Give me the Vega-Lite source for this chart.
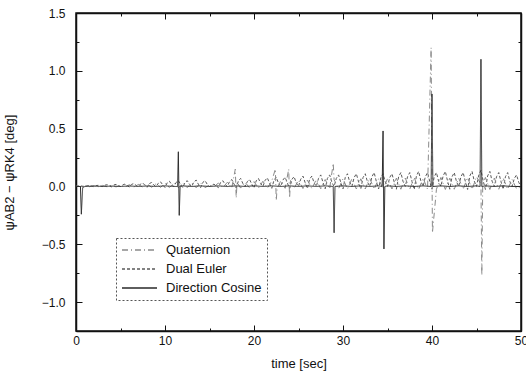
{
  "$schema": "https://vega.github.io/schema/vega-lite/v6.json",
  "width": 445,
  "height": 318,
  "autosize": {"type": "none"},
  "padding": {"left": 76, "top": 13, "right": 5, "bottom": 45},
  "background": "white",
  "config": {
    "view": {"stroke": "#111", "strokeWidth": 1.5},
    "font": "Liberation Sans",
    "axis": {
      "labelFont": "Liberation Sans",
      "labelFontSize": 12,
      "labelColor": "#111",
      "titleFont": "Liberation Sans",
      "titleFontSize": 13,
      "titleFontWeight": "normal",
      "titleColor": "#111",
      "domainColor": "#111",
      "domainWidth": 1.5,
      "tickColor": "#111",
      "tickWidth": 1,
      "grid": false
    },
    "legend": {
      "strokeColor": "#555",
      "strokeDash": [2, 2],
      "strokeWidth": 1,
      "padding": 5,
      "labelFont": "Liberation Sans",
      "labelFontSize": 13,
      "labelColor": "#111",
      "symbolType": "stroke",
      "symbolSize": 1225,
      "symbolStrokeWidth": 1.3,
      "clipHeight": 14,
      "rowPadding": 5,
      "labelOffset": 8
    }
  },
  "data": {
    "values": [
      {"s":"Dual Euler","t":0,"v":0},{"s":"Dual Euler","t":0.25,"v":0.004},{"s":"Dual Euler","t":0.5,"v":0.005},{"s":"Dual Euler","t":0.75,"v":0.002},
      {"s":"Dual Euler","t":1,"v":0},{"s":"Dual Euler","t":1.25,"v":0.006},{"s":"Dual Euler","t":1.5,"v":0.008},{"s":"Dual Euler","t":1.75,"v":0.003},
      {"s":"Dual Euler","t":2,"v":-0.002},{"s":"Dual Euler","t":2.25,"v":0.007},{"s":"Dual Euler","t":2.5,"v":0.01},{"s":"Dual Euler","t":2.75,"v":0.004},
      {"s":"Dual Euler","t":3,"v":0},{"s":"Dual Euler","t":3.25,"v":0.011},{"s":"Dual Euler","t":3.5,"v":0.015},{"s":"Dual Euler","t":3.75,"v":0.005},
      {"s":"Dual Euler","t":4,"v":-0.003},{"s":"Dual Euler","t":4.25,"v":0.013},{"s":"Dual Euler","t":4.5,"v":0.018},{"s":"Dual Euler","t":4.75,"v":0.006},
      {"s":"Dual Euler","t":5,"v":0},{"s":"Dual Euler","t":5.25,"v":0.014},{"s":"Dual Euler","t":5.5,"v":0.02},{"s":"Dual Euler","t":5.75,"v":0.007},
      {"s":"Dual Euler","t":6,"v":-0.005},{"s":"Dual Euler","t":6.25,"v":0.018},{"s":"Dual Euler","t":6.5,"v":0.025},{"s":"Dual Euler","t":6.75,"v":0.009},
      {"s":"Dual Euler","t":7,"v":0},{"s":"Dual Euler","t":7.25,"v":0.021},{"s":"Dual Euler","t":7.5,"v":0.03},{"s":"Dual Euler","t":7.75,"v":0.01},
      {"s":"Dual Euler","t":8,"v":-0.007},{"s":"Dual Euler","t":8.25,"v":0.025},{"s":"Dual Euler","t":8.5,"v":0.035},{"s":"Dual Euler","t":8.75,"v":0.012},
      {"s":"Dual Euler","t":9,"v":0},{"s":"Dual Euler","t":9.25,"v":0.028},{"s":"Dual Euler","t":9.5,"v":0.04},{"s":"Dual Euler","t":9.75,"v":0.014},
      {"s":"Dual Euler","t":10,"v":-0.009},{"s":"Dual Euler","t":10.25,"v":0.032},{"s":"Dual Euler","t":10.5,"v":0.045},{"s":"Dual Euler","t":10.75,"v":0.016},
      {"s":"Dual Euler","t":11,"v":0},{"s":"Dual Euler","t":11.25,"v":0.035},{"s":"Dual Euler","t":11.5,"v":0.05},{"s":"Dual Euler","t":11.75,"v":0.018},
      {"s":"Dual Euler","t":12,"v":-0.01},{"s":"Dual Euler","t":12.25,"v":0.035},{"s":"Dual Euler","t":12.5,"v":0.05},{"s":"Dual Euler","t":12.75,"v":0.018},
      {"s":"Dual Euler","t":13,"v":0},{"s":"Dual Euler","t":13.25,"v":0.039},{"s":"Dual Euler","t":13.5,"v":0.055},{"s":"Dual Euler","t":13.75,"v":0.019},
      {"s":"Dual Euler","t":14,"v":-0.01},{"s":"Dual Euler","t":14.25,"v":0.035},{"s":"Dual Euler","t":14.5,"v":0.05},{"s":"Dual Euler","t":14.75,"v":0.018},
      {"s":"Dual Euler","t":15,"v":0},{"s":"Dual Euler","t":15.25,"v":0.01},{"s":"Dual Euler","t":15.5,"v":0.02},{"s":"Dual Euler","t":15.75,"v":0.005},
      {"s":"Dual Euler","t":16,"v":-0.01},{"s":"Dual Euler","t":16.25,"v":0.035},{"s":"Dual Euler","t":16.5,"v":0.05},{"s":"Dual Euler","t":16.75,"v":0.018},
      {"s":"Dual Euler","t":17,"v":0},{"s":"Dual Euler","t":17.25,"v":0.042},{"s":"Dual Euler","t":17.5,"v":0.06},{"s":"Dual Euler","t":17.75,"v":0.021},
      {"s":"Dual Euler","t":18,"v":-0.014},{"s":"Dual Euler","t":18.25,"v":0.049},{"s":"Dual Euler","t":18.5,"v":0.07},{"s":"Dual Euler","t":18.75,"v":0.025},
      {"s":"Dual Euler","t":19,"v":0},{"s":"Dual Euler","t":19.25,"v":0.042},{"s":"Dual Euler","t":19.5,"v":0.06},{"s":"Dual Euler","t":19.75,"v":0.021},
      {"s":"Dual Euler","t":20,"v":-0.014},{"s":"Dual Euler","t":20.25,"v":0.049},{"s":"Dual Euler","t":20.5,"v":0.07},{"s":"Dual Euler","t":20.75,"v":0.025},
      {"s":"Dual Euler","t":21,"v":0},{"s":"Dual Euler","t":21.25,"v":0.053},{"s":"Dual Euler","t":21.5,"v":0.075},{"s":"Dual Euler","t":21.75,"v":0.026},
      {"s":"Dual Euler","t":22,"v":-0.016},{"s":"Dual Euler","t":22.25,"v":0.056},{"s":"Dual Euler","t":22.5,"v":0.08},{"s":"Dual Euler","t":22.75,"v":0.028},
      {"s":"Dual Euler","t":23,"v":0},{"s":"Dual Euler","t":23.25,"v":0.056},{"s":"Dual Euler","t":23.5,"v":0.08},{"s":"Dual Euler","t":23.75,"v":0.028},
      {"s":"Dual Euler","t":24,"v":-0.017},{"s":"Dual Euler","t":24.25,"v":0.06},{"s":"Dual Euler","t":24.5,"v":0.085},{"s":"Dual Euler","t":24.75,"v":0.03},
      {"s":"Dual Euler","t":25,"v":0},{"s":"Dual Euler","t":25.25,"v":0.063},{"s":"Dual Euler","t":25.5,"v":0.09},{"s":"Dual Euler","t":25.75,"v":0.032},
      {"s":"Dual Euler","t":26,"v":-0.018},{"s":"Dual Euler","t":26.25,"v":0.063},{"s":"Dual Euler","t":26.5,"v":0.09},{"s":"Dual Euler","t":26.75,"v":0.032},
      {"s":"Dual Euler","t":27,"v":0},{"s":"Dual Euler","t":27.25,"v":0.07},{"s":"Dual Euler","t":27.5,"v":0.1},{"s":"Dual Euler","t":27.75,"v":0.035},
      {"s":"Dual Euler","t":28,"v":-0.02},{"s":"Dual Euler","t":28.25,"v":0.07},{"s":"Dual Euler","t":28.5,"v":0.1},{"s":"Dual Euler","t":28.75,"v":0.035},
      {"s":"Dual Euler","t":29,"v":0},{"s":"Dual Euler","t":29.25,"v":0.07},{"s":"Dual Euler","t":29.5,"v":0.1},{"s":"Dual Euler","t":29.75,"v":0.035},
      {"s":"Dual Euler","t":30,"v":-0.022},{"s":"Dual Euler","t":30.25,"v":0.077},{"s":"Dual Euler","t":30.5,"v":0.11},{"s":"Dual Euler","t":30.75,"v":0.039},
      {"s":"Dual Euler","t":31,"v":0},{"s":"Dual Euler","t":31.25,"v":0.077},{"s":"Dual Euler","t":31.5,"v":0.11},{"s":"Dual Euler","t":31.75,"v":0.039},
      {"s":"Dual Euler","t":32,"v":-0.022},{"s":"Dual Euler","t":32.25,"v":0.077},{"s":"Dual Euler","t":32.5,"v":0.11},{"s":"Dual Euler","t":32.75,"v":0.039},
      {"s":"Dual Euler","t":33,"v":0},{"s":"Dual Euler","t":33.25,"v":0.084},{"s":"Dual Euler","t":33.5,"v":0.12},{"s":"Dual Euler","t":33.75,"v":0.042},
      {"s":"Dual Euler","t":34,"v":-0.022},{"s":"Dual Euler","t":34.25,"v":0.077},{"s":"Dual Euler","t":34.5,"v":0.11},{"s":"Dual Euler","t":34.75,"v":0.039},
      {"s":"Dual Euler","t":35,"v":0},{"s":"Dual Euler","t":35.25,"v":0.077},{"s":"Dual Euler","t":35.5,"v":0.11},{"s":"Dual Euler","t":35.75,"v":0.039},
      {"s":"Dual Euler","t":36,"v":-0.024},{"s":"Dual Euler","t":36.25,"v":0.084},{"s":"Dual Euler","t":36.5,"v":0.12},{"s":"Dual Euler","t":36.75,"v":0.042},
      {"s":"Dual Euler","t":37,"v":0},{"s":"Dual Euler","t":37.25,"v":0.084},{"s":"Dual Euler","t":37.5,"v":0.12},{"s":"Dual Euler","t":37.75,"v":0.042},
      {"s":"Dual Euler","t":38,"v":-0.026},{"s":"Dual Euler","t":38.25,"v":0.091},{"s":"Dual Euler","t":38.5,"v":0.13},{"s":"Dual Euler","t":38.75,"v":0.046},
      {"s":"Dual Euler","t":39,"v":0},{"s":"Dual Euler","t":39.25,"v":0.084},{"s":"Dual Euler","t":39.5,"v":0.12},{"s":"Dual Euler","t":39.75,"v":0.042},
      {"s":"Dual Euler","t":40,"v":-0.024},{"s":"Dual Euler","t":40.25,"v":0.084},{"s":"Dual Euler","t":40.5,"v":0.12},{"s":"Dual Euler","t":40.75,"v":0.042},
      {"s":"Dual Euler","t":41,"v":0},{"s":"Dual Euler","t":41.25,"v":0.091},{"s":"Dual Euler","t":41.5,"v":0.13},{"s":"Dual Euler","t":41.75,"v":0.046},
      {"s":"Dual Euler","t":42,"v":-0.024},{"s":"Dual Euler","t":42.25,"v":0.084},{"s":"Dual Euler","t":42.5,"v":0.12},{"s":"Dual Euler","t":42.75,"v":0.042},
      {"s":"Dual Euler","t":43,"v":0},{"s":"Dual Euler","t":43.25,"v":0.084},{"s":"Dual Euler","t":43.5,"v":0.12},{"s":"Dual Euler","t":43.75,"v":0.042},
      {"s":"Dual Euler","t":44,"v":-0.026},{"s":"Dual Euler","t":44.25,"v":0.091},{"s":"Dual Euler","t":44.5,"v":0.13},{"s":"Dual Euler","t":44.75,"v":0.046},
      {"s":"Dual Euler","t":45,"v":0},{"s":"Dual Euler","t":45.25,"v":0.098},{"s":"Dual Euler","t":45.5,"v":0.14},{"s":"Dual Euler","t":45.75,"v":0.049},
      {"s":"Dual Euler","t":46,"v":-0.026},{"s":"Dual Euler","t":46.25,"v":0.091},{"s":"Dual Euler","t":46.5,"v":0.13},{"s":"Dual Euler","t":46.75,"v":0.046},
      {"s":"Dual Euler","t":47,"v":0},{"s":"Dual Euler","t":47.25,"v":0.084},{"s":"Dual Euler","t":47.5,"v":0.12},{"s":"Dual Euler","t":47.75,"v":0.042},
      {"s":"Dual Euler","t":48,"v":-0.024},{"s":"Dual Euler","t":48.25,"v":0.084},{"s":"Dual Euler","t":48.5,"v":0.12},{"s":"Dual Euler","t":48.75,"v":0.042},
      {"s":"Dual Euler","t":49,"v":0},{"s":"Dual Euler","t":49.25,"v":0.07},{"s":"Dual Euler","t":49.5,"v":0.1},{"s":"Dual Euler","t":49.75,"v":0.035},
      {"s":"Dual Euler","t":50,"v":0},

      {"s":"Quaternion","t":0,"v":0.003},{"s":"Quaternion","t":0.5,"v":-0.001},{"s":"Quaternion","t":1,"v":0.005},{"s":"Quaternion","t":1.5,"v":-0.002},
      {"s":"Quaternion","t":2,"v":0.006},{"s":"Quaternion","t":2.5,"v":-0.002},{"s":"Quaternion","t":3,"v":0.009},{"s":"Quaternion","t":3.5,"v":-0.003},
      {"s":"Quaternion","t":4,"v":0.011},{"s":"Quaternion","t":4.5,"v":-0.004},{"s":"Quaternion","t":5,"v":0.012},{"s":"Quaternion","t":5.5,"v":-0.004},
      {"s":"Quaternion","t":6,"v":0.015},{"s":"Quaternion","t":6.5,"v":-0.005},{"s":"Quaternion","t":7,"v":0.018},{"s":"Quaternion","t":7.5,"v":-0.006},
      {"s":"Quaternion","t":8,"v":0.021},{"s":"Quaternion","t":8.5,"v":-0.007},{"s":"Quaternion","t":9,"v":0.024},{"s":"Quaternion","t":9.5,"v":-0.008},
      {"s":"Quaternion","t":10,"v":0.027},{"s":"Quaternion","t":10.5,"v":-0.009},{"s":"Quaternion","t":11,"v":0.03},{"s":"Quaternion","t":11.5,"v":-0.01},
      {"s":"Quaternion","t":12,"v":0.03},{"s":"Quaternion","t":12.5,"v":-0.01},{"s":"Quaternion","t":13,"v":0.033},{"s":"Quaternion","t":13.5,"v":-0.011},
      {"s":"Quaternion","t":14,"v":0.03},{"s":"Quaternion","t":14.5,"v":-0.01},{"s":"Quaternion","t":15,"v":0.012},{"s":"Quaternion","t":15.5,"v":-0.004},
      {"s":"Quaternion","t":16,"v":0.03},{"s":"Quaternion","t":16.5,"v":-0.01},{"s":"Quaternion","t":17,"v":0.036},{"s":"Quaternion","t":17.5,"v":-0.012},
      {"s":"Quaternion","t":17.9,"v":0.15},{"s":"Quaternion","t":18,"v":-0.1},{"s":"Quaternion","t":18.1,"v":0.036},{"s":"Quaternion","t":18.5,"v":-0.014},
      {"s":"Quaternion","t":19,"v":0.036},{"s":"Quaternion","t":19.5,"v":-0.012},{"s":"Quaternion","t":20,"v":0.042},{"s":"Quaternion","t":20.5,"v":-0.014},
      {"s":"Quaternion","t":21,"v":0.045},{"s":"Quaternion","t":21.5,"v":-0.015},{"s":"Quaternion","t":22,"v":0.048},{"s":"Quaternion","t":22.4,"v":0.15},
      {"s":"Quaternion","t":22.5,"v":-0.12},{"s":"Quaternion","t":22.6,"v":-0.016},{"s":"Quaternion","t":23,"v":0.048},{"s":"Quaternion","t":23.5,"v":-0.016},
      {"s":"Quaternion","t":23.9,"v":0.15},{"s":"Quaternion","t":24,"v":-0.1},{"s":"Quaternion","t":24.1,"v":0.051},{"s":"Quaternion","t":24.5,"v":-0.017},
      {"s":"Quaternion","t":25,"v":0.054},{"s":"Quaternion","t":25.5,"v":-0.018},{"s":"Quaternion","t":26,"v":0.054},{"s":"Quaternion","t":26.5,"v":-0.018},
      {"s":"Quaternion","t":27,"v":0.06},{"s":"Quaternion","t":27.5,"v":-0.02},{"s":"Quaternion","t":28,"v":0.06},{"s":"Quaternion","t":28.5,"v":-0.02},
      {"s":"Quaternion","t":28.9,"v":0.2},{"s":"Quaternion","t":29,"v":0.06},{"s":"Quaternion","t":29.5,"v":-0.02},{"s":"Quaternion","t":30,"v":0.066},
      {"s":"Quaternion","t":30.5,"v":-0.022},{"s":"Quaternion","t":31,"v":0.066},{"s":"Quaternion","t":31.5,"v":-0.022},{"s":"Quaternion","t":32,"v":0.066},
      {"s":"Quaternion","t":32.5,"v":-0.022},{"s":"Quaternion","t":33,"v":0.072},{"s":"Quaternion","t":33.5,"v":-0.024},{"s":"Quaternion","t":34,"v":0.066},
      {"s":"Quaternion","t":34.5,"v":-0.022},{"s":"Quaternion","t":35,"v":0.066},{"s":"Quaternion","t":35.5,"v":-0.022},{"s":"Quaternion","t":36,"v":0.072},
      {"s":"Quaternion","t":36.5,"v":-0.024},{"s":"Quaternion","t":37,"v":0.072},{"s":"Quaternion","t":37.5,"v":-0.024},{"s":"Quaternion","t":38,"v":0.078},
      {"s":"Quaternion","t":38.5,"v":-0.026},{"s":"Quaternion","t":39,"v":0.072},{"s":"Quaternion","t":39.5,"v":-0.024},{"s":"Quaternion","t":39.9,"v":1.2},
      {"s":"Quaternion","t":40.05,"v":-0.4},{"s":"Quaternion","t":40.5,"v":-0.024},{"s":"Quaternion","t":41,"v":0.078},{"s":"Quaternion","t":41.5,"v":-0.026},
      {"s":"Quaternion","t":42,"v":0.072},{"s":"Quaternion","t":42.5,"v":-0.024},{"s":"Quaternion","t":43,"v":0.072},{"s":"Quaternion","t":43.5,"v":-0.024},
      {"s":"Quaternion","t":44,"v":0.078},{"s":"Quaternion","t":44.5,"v":-0.026},{"s":"Quaternion","t":45,"v":0.084},{"s":"Quaternion","t":45.5,"v":0.02},
      {"s":"Quaternion","t":45.6,"v":-0.77},{"s":"Quaternion","t":45.7,"v":0.02},{"s":"Quaternion","t":46,"v":0.078},{"s":"Quaternion","t":46.5,"v":-0.026},
      {"s":"Quaternion","t":47,"v":0.072},{"s":"Quaternion","t":47.5,"v":-0.024},{"s":"Quaternion","t":48,"v":0.072},{"s":"Quaternion","t":48.5,"v":-0.024},
      {"s":"Quaternion","t":49,"v":0.06},{"s":"Quaternion","t":49.5,"v":-0.02},{"s":"Quaternion","t":50,"v":0},

      {"s":"Direction Cosine","t":0,"v":0},{"s":"Direction Cosine","t":0.5,"v":0},{"s":"Direction Cosine","t":0.6,"v":-0.24},{"s":"Direction Cosine","t":0.75,"v":-0.01},
      {"s":"Direction Cosine","t":1,"v":0},{"s":"Direction Cosine","t":2,"v":0.003},{"s":"Direction Cosine","t":3,"v":0},{"s":"Direction Cosine","t":4,"v":0.003},
      {"s":"Direction Cosine","t":5,"v":0},{"s":"Direction Cosine","t":6,"v":0.004},{"s":"Direction Cosine","t":7,"v":0},{"s":"Direction Cosine","t":8,"v":0.004},
      {"s":"Direction Cosine","t":9,"v":0},{"s":"Direction Cosine","t":10,"v":0.005},{"s":"Direction Cosine","t":11,"v":0},{"s":"Direction Cosine","t":11.4,"v":0},
      {"s":"Direction Cosine","t":11.5,"v":0.3},{"s":"Direction Cosine","t":11.6,"v":-0.25},{"s":"Direction Cosine","t":11.7,"v":0},{"s":"Direction Cosine","t":12,"v":0.005},
      {"s":"Direction Cosine","t":13,"v":0},{"s":"Direction Cosine","t":14,"v":0.005},{"s":"Direction Cosine","t":15,"v":0},{"s":"Direction Cosine","t":16,"v":0.005},
      {"s":"Direction Cosine","t":17,"v":0},{"s":"Direction Cosine","t":18,"v":0.005},{"s":"Direction Cosine","t":19,"v":0},{"s":"Direction Cosine","t":20,"v":0.005},
      {"s":"Direction Cosine","t":21,"v":0},{"s":"Direction Cosine","t":22,"v":0.005},{"s":"Direction Cosine","t":23,"v":0},{"s":"Direction Cosine","t":24,"v":0.005},
      {"s":"Direction Cosine","t":25,"v":0},{"s":"Direction Cosine","t":26,"v":0.005},{"s":"Direction Cosine","t":27,"v":0},{"s":"Direction Cosine","t":28,"v":0.005},
      {"s":"Direction Cosine","t":28.9,"v":0},{"s":"Direction Cosine","t":29,"v":-0.4},{"s":"Direction Cosine","t":29.1,"v":0},{"s":"Direction Cosine","t":30,"v":0.005},
      {"s":"Direction Cosine","t":31,"v":0},{"s":"Direction Cosine","t":32,"v":0.005},{"s":"Direction Cosine","t":33,"v":0},{"s":"Direction Cosine","t":34,"v":0.005},
      {"s":"Direction Cosine","t":34.4,"v":0},{"s":"Direction Cosine","t":34.5,"v":0.48},{"s":"Direction Cosine","t":34.6,"v":-0.54},{"s":"Direction Cosine","t":34.7,"v":0},
      {"s":"Direction Cosine","t":35,"v":0.005},{"s":"Direction Cosine","t":36,"v":0},{"s":"Direction Cosine","t":37,"v":0.005},{"s":"Direction Cosine","t":38,"v":0},
      {"s":"Direction Cosine","t":39,"v":0.005},{"s":"Direction Cosine","t":39.9,"v":0},{"s":"Direction Cosine","t":40,"v":0.8},{"s":"Direction Cosine","t":40.1,"v":0},
      {"s":"Direction Cosine","t":41,"v":0.005},{"s":"Direction Cosine","t":42,"v":0},{"s":"Direction Cosine","t":43,"v":0.005},{"s":"Direction Cosine","t":44,"v":0},
      {"s":"Direction Cosine","t":45,"v":0.005},{"s":"Direction Cosine","t":45.4,"v":0},{"s":"Direction Cosine","t":45.5,"v":1.1},{"s":"Direction Cosine","t":45.6,"v":0},
      {"s":"Direction Cosine","t":46,"v":0.005},{"s":"Direction Cosine","t":47,"v":0},{"s":"Direction Cosine","t":48,"v":0.005},{"s":"Direction Cosine","t":49,"v":0},
      {"s":"Direction Cosine","t":50,"v":0}
    ]
  },
  "layer": [
    {
      "mark": {"type": "line", "strokeWidth": 1, "clip": true},
      "encoding": {
        "x": {
          "field": "t", "type": "quantitative",
          "scale": {"domain": [0, 50], "nice": false, "zero": false},
          "axis": {
            "orient": "bottom",
            "title": "time [sec]",
            "values": [0, 5, 10, 15, 20, 25, 30, 35, 40, 45, 50],
            "labelExpr": "datum.value % 10 === 0 ? datum.label : ''",
            "tickSize": {"condition": {"test": "datum.value % 10 === 0", "value": -6}, "value": -3},
            "labelPadding": 10,
            "titlePadding": 8,
            "labelFlush": false,
            "labelOverlap": false
          }
        },
        "y": {
          "field": "v", "type": "quantitative",
          "scale": {"domain": [-1.25, 1.5], "nice": false, "zero": false},
          "axis": {
            "orient": "left",
            "title": "ψAB2 − ψRK4 [deg]",
            "values": [-1.25, -1, -0.75, -0.5, -0.25, 0, 0.25, 0.5, 0.75, 1, 1.25, 1.5],
            "format": ".1f",
            "labelExpr": "abs(datum.value * 2 - round(datum.value * 2)) < 0.001 ? datum.label : ''",
            "tickSize": {"condition": {"test": "abs(datum.value * 2 - round(datum.value * 2)) < 0.001", "value": -6}, "value": -3},
            "labelPadding": 17,
            "titlePadding": 25,
            "labelFlush": false,
            "labelOverlap": false
          }
        },
        "color": {
          "field": "s", "type": "nominal",
          "scale": {"domain": ["Quaternion", "Dual Euler", "Direction Cosine"], "range": ["#8a8a8a", "#5a5a5a", "#2a2a2a"]},
          "legend": {"title": null, "orient": "none", "legendX": 40, "legendY": 225}
        },
        "strokeDash": {
          "field": "s", "type": "nominal",
          "scale": {"domain": ["Quaternion", "Dual Euler", "Direction Cosine"], "range": [[6, 3, 1, 3], [3, 2], [1, 0]]},
          "legend": {"title": null, "orient": "none", "legendX": 40, "legendY": 225}
        }
      }
    },
    {
      "mark": {"type": "line", "opacity": 0},
      "encoding": {
        "x": {
          "field": "t", "type": "quantitative",
          "axis": {
            "orient": "top", "title": null, "labels": false,
            "values": [0, 5, 10, 15, 20, 25, 30, 35, 40, 45, 50],
            "tickSize": {"condition": {"test": "datum.value % 10 === 0", "value": -6}, "value": -3}
          }
        },
        "y": {
          "field": "v", "type": "quantitative",
          "axis": {
            "orient": "right", "title": null, "labels": false,
            "values": [-1.25, -1, -0.75, -0.5, -0.25, 0, 0.25, 0.5, 0.75, 1, 1.25, 1.5],
            "tickSize": {"condition": {"test": "abs(datum.value * 2 - round(datum.value * 2)) < 0.001", "value": -6}, "value": -3}
          }
        }
      }
    }
  ],
  "resolve": {"axis": {"x": "independent", "y": "independent"}}
}
